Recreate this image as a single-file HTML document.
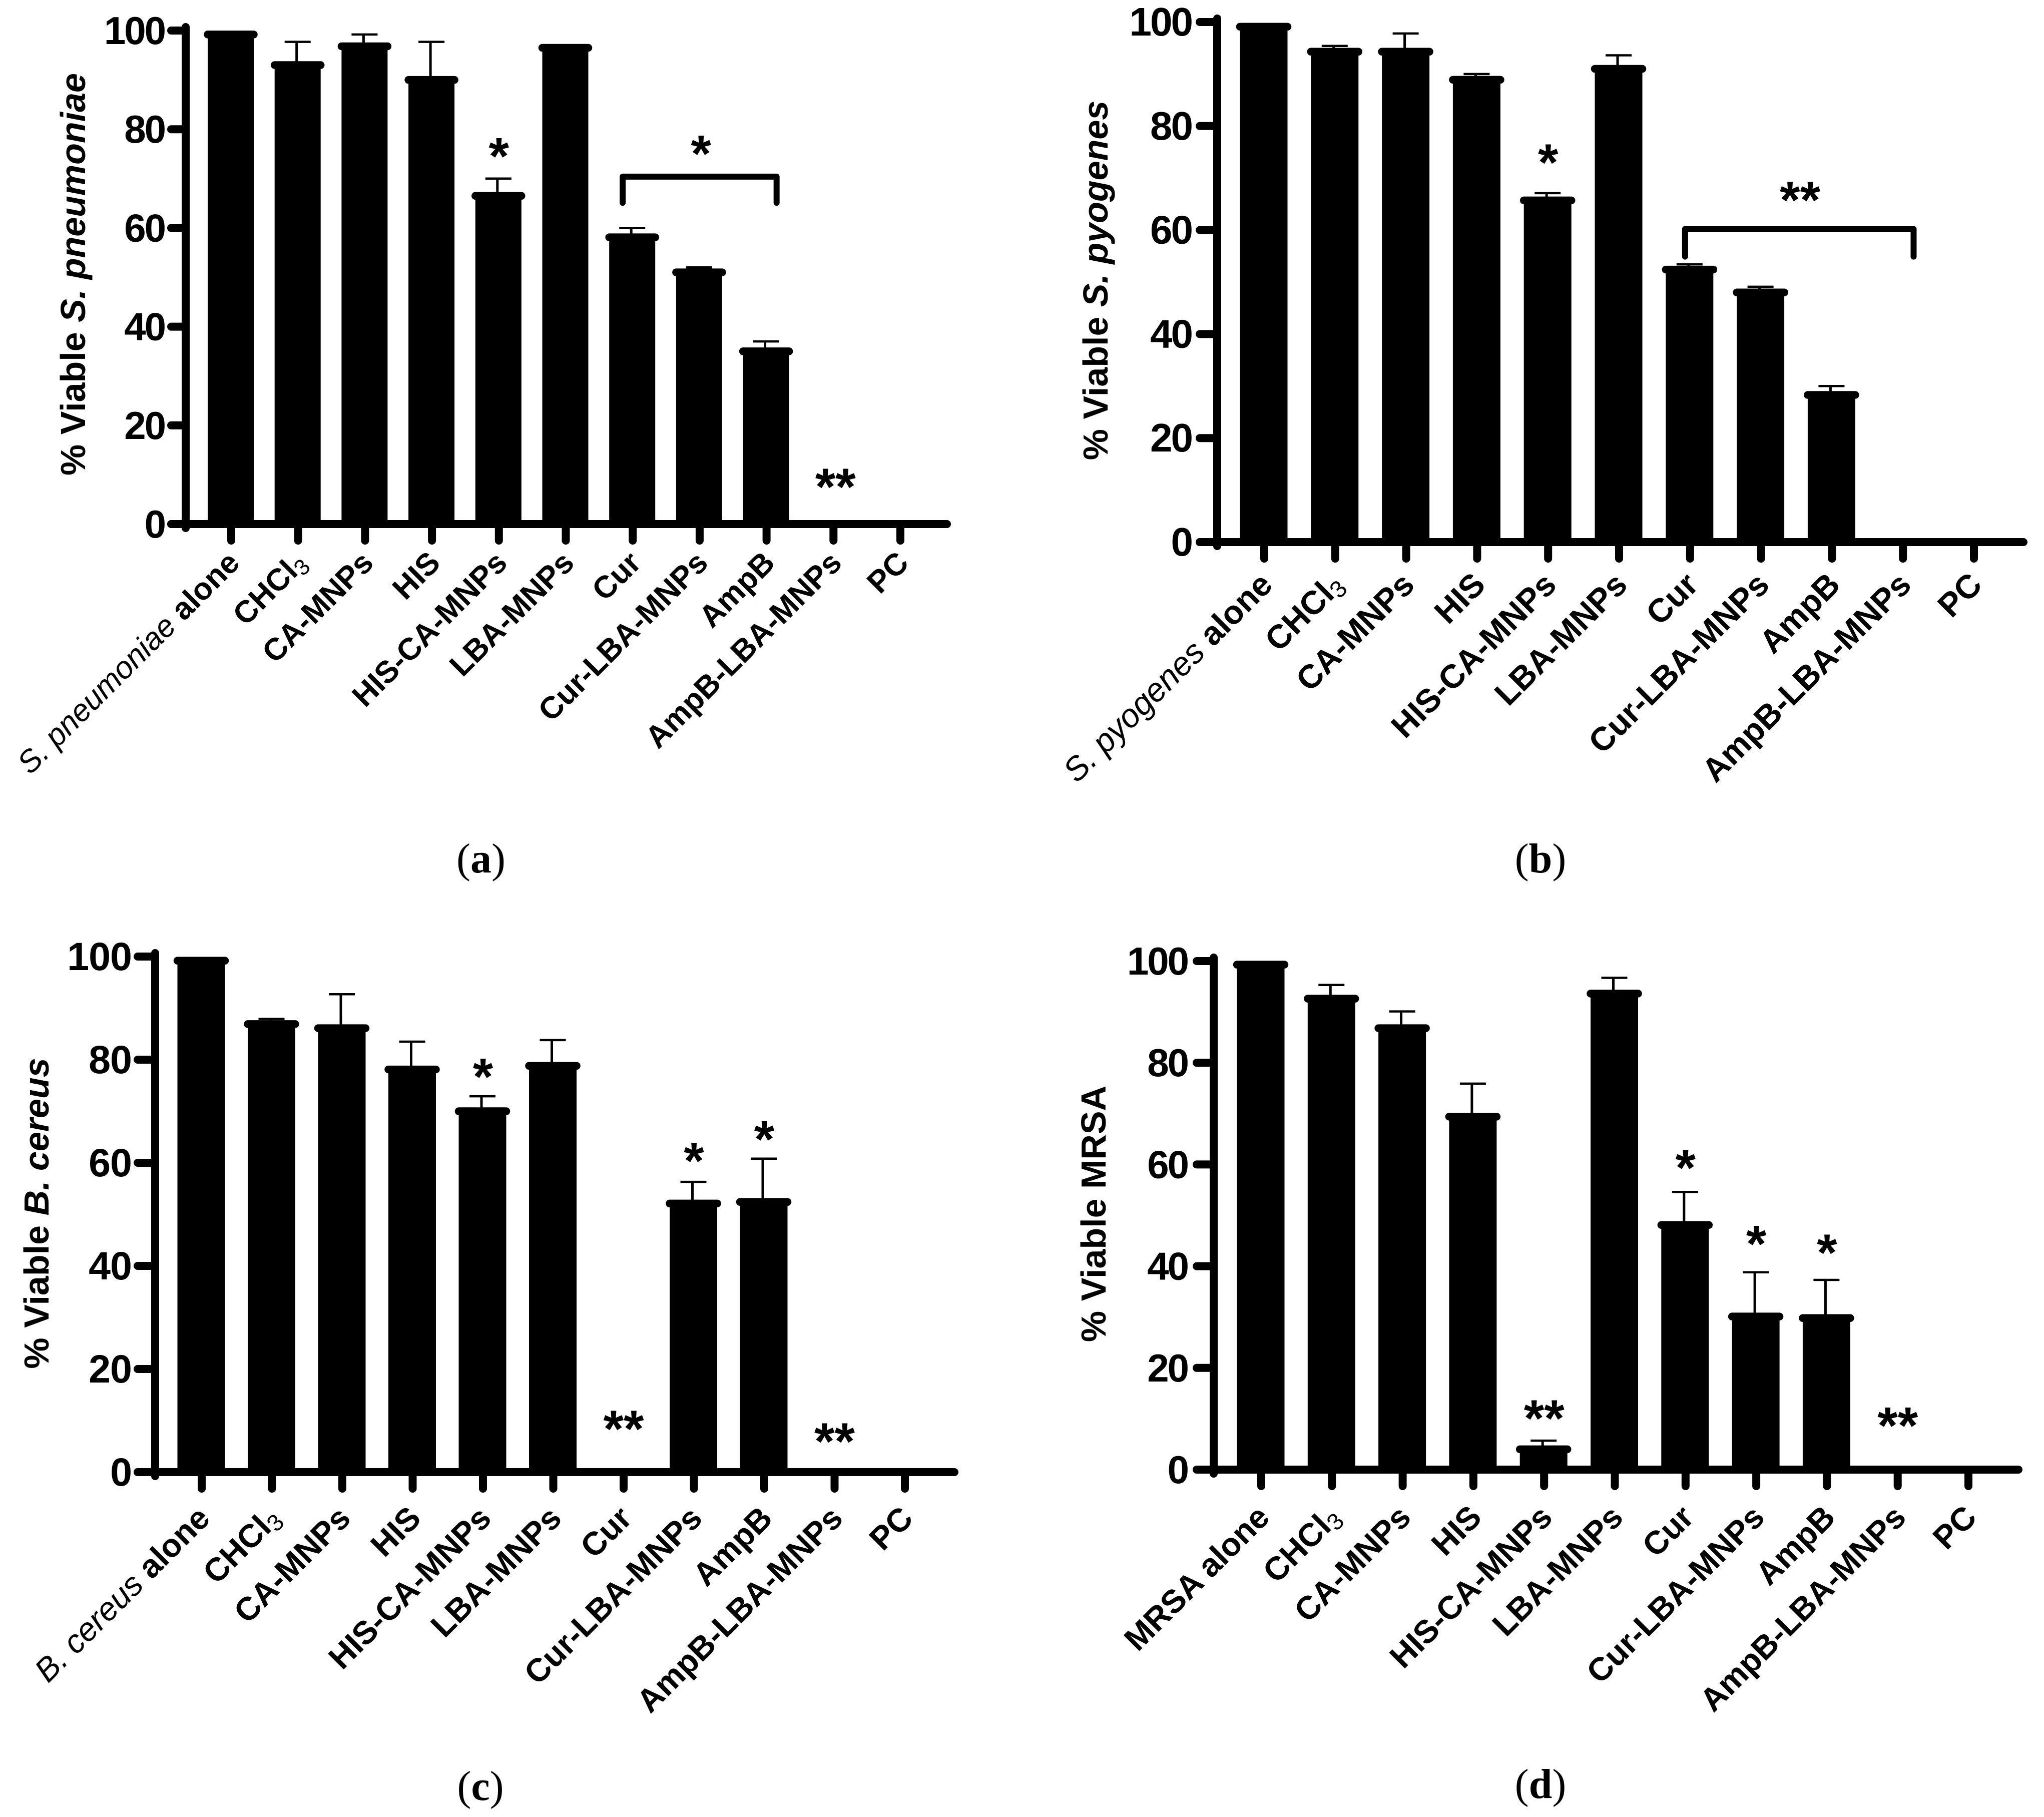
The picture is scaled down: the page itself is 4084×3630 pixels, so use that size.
<!DOCTYPE html>
<html lang="en">
<head>
<meta charset="utf-8">
<title>Viability of bacteria after treatment</title>
<style>
html,body{margin:0;padding:0;background:#fff;}
svg{display:block;}
text{font-family:"Liberation Sans",Arial,sans-serif;fill:#000;}
</style>
</head>
<body>
<svg id="figure" xmlns="http://www.w3.org/2000/svg" width="4084" height="3630" viewBox="0 0 4084 3630"></svg>
<script>
// ---------- data ----------
const categories = ['alone','CHCl3','CA-MNPs','HIS','HIS-CA-MNPs','LBA-MNPs','Cur','Cur-LBA-MNPs','AmpB','AmpB-LBA-MNPs','PC'];
const yTickLabels = [0,20,40,60,80,100];

const valuesA = [99.2,93,96.8,90,66.5,96.5,58.1,51,35,0,0];
const errorTopsA = [99.2,97.7,99.2,97.7,70,96.9,60,52,37,0,0];
const valuesB = [99.1,94.3,94.3,88.9,65.7,91,52.4,48,28.3,0,0];
const errorTopsB = [99.1,95.4,97.8,90,67.1,93.6,53.4,49.1,30,0,0];
const valuesC = [99.2,86.9,86.1,78.1,70,78.8,0,52.1,52.4,0,0];
const errorTopsC = [99.2,87.9,92.7,83.5,72.9,83.8,0,56.3,60.8,0,0];
const valuesD = [99.3,92.6,86.8,69.4,4,93.6,48.1,30.1,29.8,0,0];
const errorTopsD = [99.3,95.3,90.1,75.9,5.7,96.7,54.6,38.8,37.3,0,0];

// significance marks: category position, height in % viable, glyph
const marksA = [[4,75.8,'*'],[7.02,76.3,'*'],[9.03,8.8,'**']];
const marksB = [[4,74.2,'*'],[7.55,67,'**']];
const marksC = [[4,77.9,'*'],[7,61.6,'*'],[8,65.8,'*'],[6,9.6,'**'],[9,7.2,'**']];
const marksD = [[6,60.6,'*'],[7,45.6,'*'],[8,43.9,'*'],[4,11.3,'**'],[9,9.9,'**']];

// brackets: from category, to category, top %, foot %
const bracketA = [5.85,8.15,70.4,65.1];
const bracketB = [5.93,9.15,60.2,54.9];

const panels = [
 {id:'a',species:'S. pneumoniae',italic:true,title:'S. pneumoniae',values:valuesA,tops:errorTopsA,marks:marksA,bracket:bracketA,
  axisX:371,baseY:1047,y100:61,tick0:462,step:133.7,right:1900,barW:92,labelSize:62,labelDy:81,tickLen:29,digitGap:42,digitSize:78,digitSpacing:-3,titleX:170,titleY:548,capX:961,capY:1743},
 {id:'b',species:'S. pyogenes',italic:true,title:'S. pyogenes',values:valuesB,tops:errorTopsB,marks:marksB,bracket:bracketB,
  axisX:2432,baseY:1083,y100:44,tick0:2526,step:141.8,right:4051,barW:95,labelSize:66,labelDy:89,tickLen:35,digitGap:51,digitSize:80,digitSpacing:-3,titleX:2213,titleY:560,capX:3078,capY:1743},
 {id:'c',species:'B. cereus',italic:true,title:'B. cereus',values:valuesC,tops:errorTopsC,marks:marksC,bracket:null,
  axisX:310,baseY:2941,y100:1911,tick0:403,step:140.5,right:1915,barW:95,labelSize:65,labelDy:96,tickLen:35,digitGap:47,digitSize:79,digitSpacing:-1,titleX:97,titleY:2424,capX:960,capY:3596},
 {id:'d',species:'MRSA',italic:false,title:'MRSA',values:valuesD,tops:errorTopsD,marks:marksD,bracket:null,
  axisX:2425,baseY:2936,y100:1920,tick0:2520,step:141.3,right:4041,barW:95,labelSize:65,labelDy:99,tickLen:34,digitGap:52,digitSize:78,digitSpacing:-3,titleX:2209,titleY:2425,capX:3078,capY:3592}
];

const NS = 'http://www.w3.org/2000/svg';
const svg = document.getElementById('figure');

function make(parent, tag, attrs){
  const n = document.createElementNS(NS, tag);
  for (const k in attrs) n.setAttribute(k, attrs[k]);
  parent.appendChild(n);
  return n;
}
function span(parent, text, attrs){
  const n = make(parent, 'tspan', attrs || {});
  n.textContent = text;
  return n;
}

panels.forEach(function(p){
  const xScale = function(i){ return p.tick0 + i * p.step; };
  const yScale = function(v){ return p.baseY - v * (p.baseY - p.y100) / 100; };

  const g = make(svg, 'g', {});
  
  

  // bars
  p.values.forEach(function(v, i){
    if (v <= 0) return;
    const cx = xScale(i) - 1, top = yScale(v), errY = yScale(p.tops[i]);
    const bar = make(g, 'rect', {x:cx - p.barW/2, y:top, width:p.barW, height:p.baseY - top, fill:'#000'});
    
    
    const cap = make(g, 'line', {x1:cx - p.barW/2, x2:cx + p.barW/2, y1:top, y2:top, stroke:'#000', 'stroke-width':15.5, 'stroke-linecap':'round'});
    
    
    if (p.tops[i] > v + 0.6) {
      const stem = make(g, 'line', {x1:cx - 2, x2:cx - 2, y1:top, y2:errY, stroke:'#000', 'stroke-width':5});
      
      
      const whisker = make(g, 'line', {x1:cx - 26, x2:cx + 26, y1:errY, y2:errY, stroke:'#000', 'stroke-width':4.5});
      
      
    }
  });

  // axes
  const yAxis = make(g, 'line', {x1:p.axisX, x2:p.axisX, y1:yScale(100) - 7, y2:p.baseY + 8, stroke:'#000', 'stroke-width':16, 'stroke-linecap':'round'});
  
  
  const xAxis = make(g, 'line', {x1:p.axisX - p.tickLen, x2:p.right - 8, y1:p.baseY, y2:p.baseY, stroke:'#000', 'stroke-width':16, 'stroke-linecap':'round'});
  
  

  // y ticks
  yTickLabels.forEach(function(t){
    const y = yScale(t);
    const tick = make(g, 'line', {x1:p.axisX, x2:p.axisX - p.tickLen, y1:y, y2:y, stroke:'#000', 'stroke-width':16, 'stroke-linecap':'round'});
    
    
    const lab = make(g, 'text', {x:p.axisX - p.digitGap, y:y + 27, 'text-anchor':'end', 'font-size':p.digitSize, 'font-weight':'bold', 'letter-spacing':p.digitSpacing});
    
    
    lab.textContent = t;
  });

  // x ticks and rotated labels
  categories.forEach(function(c, i){
    const x = xScale(i);
    const tick = make(g, 'line', {x1:x, x2:x, y1:p.baseY, y2:p.baseY + 33, stroke:'#000', 'stroke-width':16, 'stroke-linecap':'round'});
    
    
    const ax = x + 20, ay = p.baseY + p.labelDy;
    const lab = make(g, 'text', {x:ax, y:ay, 'text-anchor':'end', 'font-size':p.labelSize, 'font-weight':'bold', transform:'rotate(-45 ' + ax + ' ' + ay + ')'});
    
    
    if (c === 'alone') {
      if (p.italic) {
        span(lab, p.species + ' ', {'font-style':'italic', 'font-weight':'normal'});
      } else {
        span(lab, p.species + ' ');
      }
      span(lab, 'alone');
    } else if (c === 'CHCl3') {
      span(lab, 'CHCl');
      span(lab, '3', {'font-size':p.labelSize * 0.72, 'font-weight':'normal', dy:10});
    } else {
      lab.textContent = c;
    }
  });

  // y axis title
  const title = make(g, 'text', {x:p.titleX, y:p.titleY, 'text-anchor':'middle', 'font-size':70, 'font-weight':'bold', transform:'rotate(-90 ' + p.titleX + ' ' + p.titleY + ')'});
  
  
  span(title, '% Viable ');
  if (p.italic) {
    span(title, p.title, {'font-style':'italic'});
  } else {
    span(title, p.title);
  }

  // significance marks
  p.marks.forEach(function(m){
    const star = make(g, 'text', {x:xScale(m[0]), y:yScale(m[1]) + 48, 'text-anchor':'middle', 'font-size':104, 'font-weight':'bold'});
    
    
    star.textContent = m[2];
  });

  // bracket
  if (p.bracket) {
    const b = p.bracket;
    const d = 'M' + xScale(b[0]) + ' ' + yScale(b[3]) + 'V' + yScale(b[2]) + 'H' + xScale(b[1]) + 'V' + yScale(b[3]);
    const br = make(g, 'path', {d:d, fill:'none', stroke:'#000', 'stroke-width':12, 'stroke-linecap':'round', 'stroke-linejoin':'round'});
    
    
  }

  // panel caption
  const cap = make(g, 'text', {x:p.capX, y:p.capY, 'text-anchor':'middle', 'font-size':84, style:'font-family:"Liberation Serif",serif'});
  
  
  span(cap, '(');
  span(cap, p.id, {'font-weight':'bold'});
  span(cap, ')');
});
</script>
</body>
</html>
